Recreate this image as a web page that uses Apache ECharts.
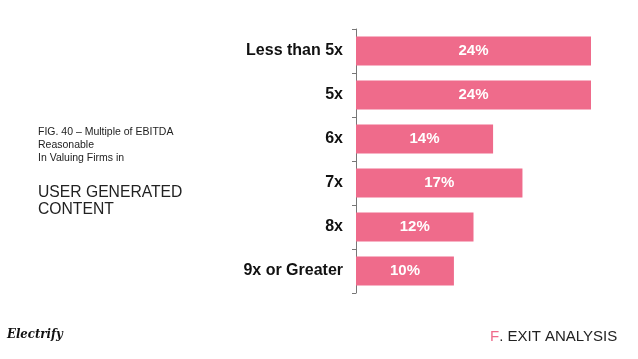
<!DOCTYPE html>
<html>
<head>
<meta charset="utf-8">
<script src="https://cdn.jsdelivr.net/npm/echarts@6/dist/echarts.min.js"></script>
<style>
html,body{margin:0;padding:0;background:#fff;}
#chart{width:638px;height:359px;}
</style>
</head>
<body>
<div id="chart"></div>
<script>
var categories = ['Less than 5x', '5x', '6x', '7x', '8x', '9x or Greater'];
var values = [24, 24, 14, 17, 12, 10];

var FONT = "'Liberation Sans', Arial, Helvetica, sans-serif";
var chart = echarts.init(document.getElementById('chart'));
chart.setOption({
  animation: false,
  backgroundColor: '#ffffff',
  grid: { left: 356, right: 47, top: 29, bottom: 66 },
  xAxis: { type: 'value', min: 0, max: 24, show: false },
  yAxis: {
    type: 'category',
    inverse: true,
    data: categories,
    axisLine: { show: true, lineStyle: { color: '#777777', width: 1 } },
    axisTick: { show: true, length: 4, lineStyle: { color: '#777777' } },
    axisLabel: { color: '#111111', fontFamily: FONT, fontWeight: 'bold', fontSize: 16, margin: 13, padding: [6, 0, 0, 0] }
  },
  series: [{
    type: 'bar',
    data: values,
    barWidth: 29,
    itemStyle: { color: '#EF6B8B' },
    label: {
      show: true, position: 'inside', formatter: '{c}%',
      color: '#ffffff', fontFamily: FONT, fontWeight: 'bold', fontSize: 15
    }
  }],
  graphic: [
    { type: 'text', left: 38, top: 126, style: { text: 'FIG. 40 – Multiple of EBITDA\nReasonable\nIn Valuing Firms in', font: '10.5px ' + FONT, fill: '#222222', lineHeight: 13 } },
    { type: 'text', left: 38, top: 184, style: { text: 'USER GENERATED\nCONTENT', font: '15.7px ' + FONT, fill: '#222222', lineHeight: 17 } },
    { type: 'text', left: 490, top: 329, style: { rich: { p: { fill: '#EF6B8B', font: '15px ' + FONT }, b: { fill: '#222222', font: '15px ' + FONT } }, text: '{p|F}{b|. EXIT ANALYSIS}' } },
    { type: 'text', left: 7, top: 328, style: { text: 'Electrify', font: 'italic bold 13px "DejaVu Serif Condensed", "DejaVu Serif", serif', fill: '#111111' } }
  ]
});
</script>
</body>
</html>
